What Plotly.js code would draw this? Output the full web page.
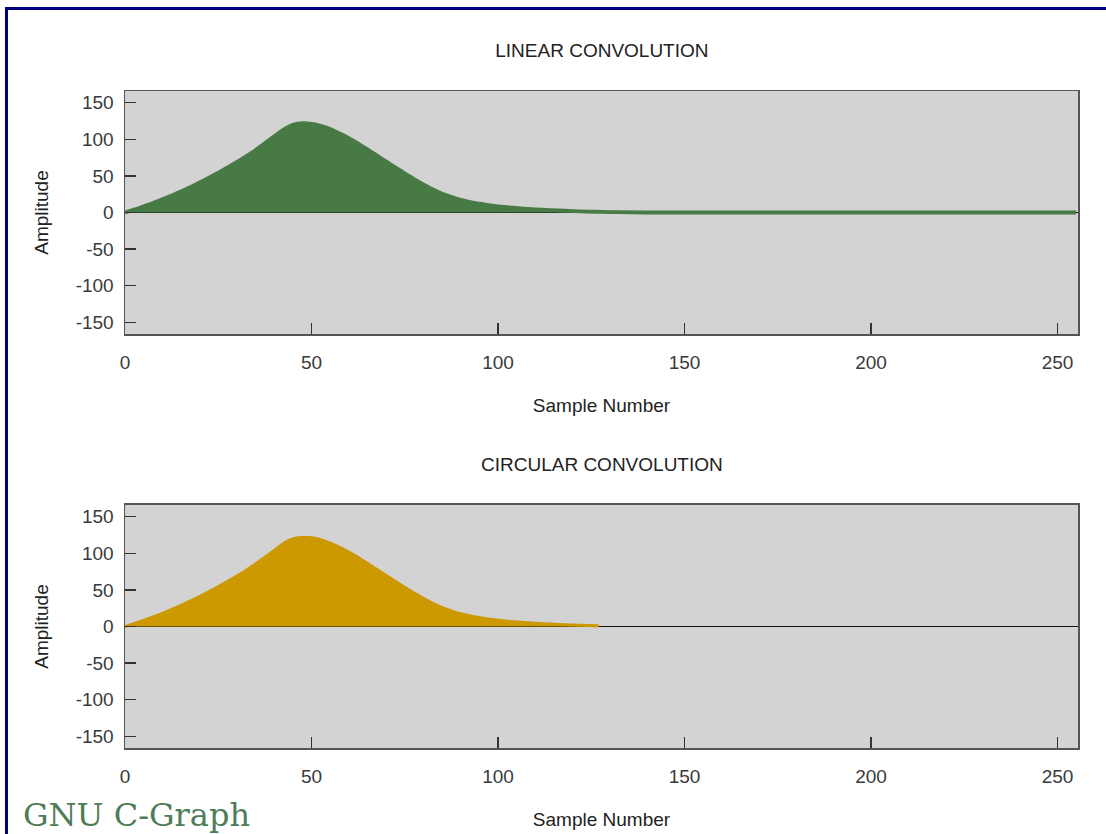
<!DOCTYPE html>
<html>
<head>
<meta charset="utf-8">
<script src="https://cdn.plot.ly/plotly-3.0.1.min.js"></script>
<style>
  html, body { margin: 0; padding: 0; background: #ffffff; }
  #wrap { position: relative; width: 1106px; height: 834px; overflow: hidden; }
  #chart { width: 1106px; height: 834px; }
  #frame { position: absolute; left: 5px; top: 7px; width: 1200px; height: 900px;
           border-top: 3px solid #000080; border-left: 3px solid #000080; pointer-events: none; }
</style>
</head>
<body>
<div id="wrap">
  <div id="chart"></div>
  <div id="frame"></div>
</div>
<script>
// ---- data ----
const linearX = [0,2,4,6,8,10,12,14,16,18,20,22,24,26,28,30,32,34,36,38,40,42,44,46,48,50,52,54,56,58,60,62,64,66,68,70,72,74,76,78,80,82,84,86,88,90,92,94,96,98,100,104,108,112,116,120,124,128,132,140,255];
const linearY = [0,3.2,6.6,10.2,14,18,22.2,26.6,31.2,36,41,46.2,51.6,57.2,63,69,75.2,81.8,89,96.5,104,111.5,117.5,121,122,121.2,119.2,116,111.8,107,101.6,95.8,89.4,83,76.4,69.8,63.2,56.8,50.4,44.2,38.4,33,28.2,24,20.4,17.4,15,13,11.3,9.8,8.5,6.5,5,3.8,2.8,2,1.3,0.8,0.4,0,0];

const circularX = [0,2,4,6,8,10,12,14,16,18,20,22,24,26,28,30,32,34,36,38,40,42,44,46,48,50,52,54,56,58,60,62,64,66,68,70,72,74,76,78,80,82,84,86,88,90,92,94,96,98,100,104,108,112,116,120,124,127];
const circularY = [0,3.2,6.6,10.2,14,18,22.2,26.6,31.2,36,41,46.2,51.6,57.2,63,69,75.2,81.8,89,96.5,104,111.5,117.5,121,122,121.2,119.2,116,111.8,107,101.6,95.8,89.4,83,76.4,69.8,63.2,56.8,50.4,44.2,38.4,33,28.2,24,20.4,17.4,15,13,11.3,9.8,8.5,6.5,5,3.8,2.8,2,1.3,1];

const xTicks = [0,50,100,150,200,250];
const yTicks = [150,100,50,0,-50,-100,-150];
const titles = ["LINEAR CONVOLUTION", "CIRCULAR CONVOLUTION"];
const xTitle = "Sample Number";
const yTitle = "Amplitude";
const logoText = "GNU C-Graph";

// ---- styling ----
const FONT = "Liberation Sans, Arial, sans-serif";
const green = "#477a44";
const gold = "#cc9900";

const traces = [
  { x: linearX, y: linearY, xaxis: "x", yaxis: "y", type: "scatter", mode: "lines",
    line: { color: green, width: 3.8, shape: "spline", smoothing: 0.8 },
    fill: "tozeroy", fillcolor: green, hoverinfo: "x+y" },
  { x: circularX, y: circularY, xaxis: "x2", yaxis: "y2", type: "scatter", mode: "lines",
    line: { color: gold, width: 3, shape: "spline", smoothing: 0.8 },
    fill: "tozeroy", fillcolor: gold, hoverinfo: "x+y" }
];

function xAxis(anchor) {
  return {
    anchor: anchor, range: [0, 255.5], tickvals: xTicks, ticktext: xTicks.map(String),
    ticks: "inside", ticklen: 11, tickwidth: 1.5, tickcolor: "#333",
    showline: true, mirror: true, linecolor: "#555", linewidth: 1.5,
    showgrid: false, zeroline: false,
    tickfont: { family: FONT, size: 19, color: "#3a3a3a" },
    ticklabelstandoff: 11,
    title: { text: xTitle, font: { family: FONT, size: 19, color: "#222" }, standoff: 26 },
    automargin: false
  };
}
function yAxis(domain, anchor) {
  return {
    domain: domain, anchor: anchor, range: [-166, 166], tickvals: yTicks, ticktext: yTicks.map(String),
    ticks: "inside", ticklen: 11, tickwidth: 1.5, tickcolor: "#333",
    showline: true, mirror: true, linecolor: "#555", linewidth: 1.5,
    showgrid: false, zeroline: true, zerolinecolor: "#111", zerolinewidth: 1.5,
    tickfont: { family: FONT, size: 19, color: "#3a3a3a" },
    ticklabelstandoff: 6,
    title: { text: yTitle, font: { family: FONT, size: 19, color: "#222" }, standoff: 22 },
    automargin: false
  };
}

const layout = {
  width: 1106, height: 834,
  margin: { l: 125, r: 28, t: 91, b: 86, pad: 0 },
  paper_bgcolor: "#ffffff", plot_bgcolor: "#d3d3d3",
  showlegend: false,
  title: { text: titles[0], font: { family: FONT, size: 19, color: "#222" },
           x: 0.5442, xanchor: "center", xref: "container", y: 1 - 50/834, yanchor: "middle", yref: "container" },
  xaxis: xAxis("y"),
  yaxis: yAxis([0.6301, 1], "x"),
  xaxis2: xAxis("y2"),
  yaxis2: yAxis([0, 0.3699], "x2"),
  annotations: [
    { text: titles[1], xref: "x2 domain", x: 0.5, yref: "y2 domain", y: 1, yshift: 40,
      xanchor: "center", yanchor: "middle", showarrow: false,
      font: { family: FONT, size: 19, color: "#222" } },
    { text: logoText, xref: "paper", x: 0, xshift: -104, yref: "paper", y: 0, yshift: -67,
      xanchor: "left", yanchor: "middle", showarrow: false,
      font: { family: "DejaVu Serif, serif", size: 32, color: "#4f7c58" } }
  ]
};

Plotly.newPlot("chart", traces, layout, { displayModeBar: false, staticPlot: true });
</script>
</body>
</html>
